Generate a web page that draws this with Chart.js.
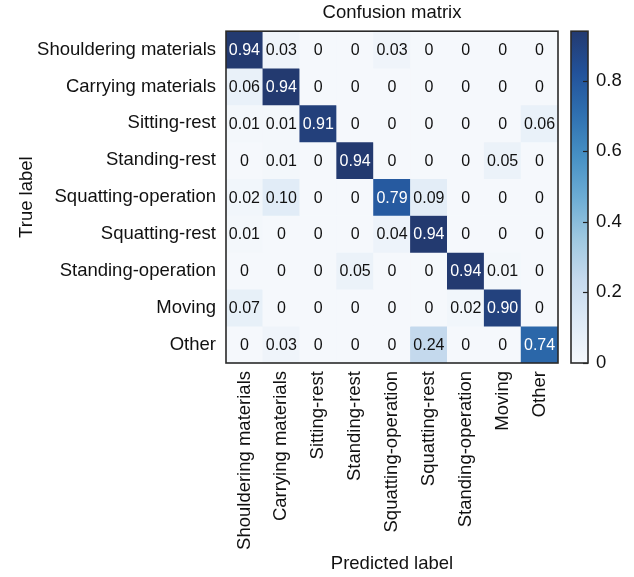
<!DOCTYPE html>
<html>
<head>
<meta charset="utf-8">
<script src="https://cdn.jsdelivr.net/npm/chart.js@4.4.1/dist/chart.umd.min.js"></script>
<style>
  html, body { margin: 0; padding: 0; background: #ffffff; }
  #wrap { width: 634px; height: 577px; }
</style>
</head>
<body>
<div id="wrap"><canvas id="cm" width="634" height="577"></canvas></div>
<script>
// Activity classes (rows = true label, columns = predicted label)
const classLabels = [
  'Shouldering materials', 'Carrying materials', 'Sitting-rest', 'Standing-rest',
  'Squatting-operation', 'Squatting-rest', 'Standing-operation', 'Moving', 'Other'
];

// Normalised confusion matrix, one array per true class
const shoulderingRow  = [0.94, 0.03, 0,    0,    0.03, 0,    0,    0,    0   ];
const carryingRow     = [0.06, 0.94, 0,    0,    0,    0,    0,    0,    0   ];
const sittingRestRow  = [0.01, 0.01, 0.91, 0,    0,    0,    0,    0,    0.06];
const standingRestRow = [0,    0.01, 0,    0.94, 0,    0,    0,    0.05, 0   ];
const squattingOpRow  = [0.02, 0.10, 0,    0,    0.79, 0.09, 0,    0,    0   ];
const squattingRestRow= [0.01, 0,    0,    0,    0.04, 0.94, 0,    0,    0   ];
const standingOpRow   = [0,    0,    0,    0.05, 0,    0,    0.94, 0.01, 0   ];
const movingRow       = [0.07, 0,    0,    0,    0,    0,    0.02, 0.90, 0   ];
const otherRow        = [0,    0.03, 0,    0,    0,    0.24, 0,    0,    0.74];

const matrixRows = [shoulderingRow, carryingRow, sittingRestRow, standingRestRow,
  squattingOpRow, squattingRestRow, standingOpRow, movingRow, otherRow];

const colorbarTicks = [0, 0.2, 0.4, 0.6, 0.8];

const vmax = Math.max(...matrixRows.flat());

// Sequential blue colour map (light to dark navy)
const bluesStops = ['#f5f8fc', '#deeaf6', '#c6daee', '#9ec8e0', '#6cacd4',
  '#4690c4', '#2f70b0', '#22529a', '#233a70'];
function hexToRgb(h) {
  return [parseInt(h.slice(1, 3), 16), parseInt(h.slice(3, 5), 16), parseInt(h.slice(5, 7), 16)];
}
function blues(t) {
  t = Math.min(1, Math.max(0, t));
  const pos = t * (bluesStops.length - 1);
  const i = Math.min(bluesStops.length - 2, Math.floor(pos));
  const f = pos - i;
  const a = hexToRgb(bluesStops[i]), b = hexToRgb(bluesStops[i + 1]);
  const c = a.map((v, k) => Math.round(v + (b[k] - v) * f));
  return `rgb(${c[0]},${c[1]},${c[2]})`;
}

const FONT = "'Liberation Sans', Arial, Helvetica, sans-serif";
const TEXT = '#111111';

// One floating-bar dataset per true-label row; each bar spans one row band
const datasets = matrixRows.map((row, i) => ({
  label: classLabels[i],
  data: row.map(() => [i - 0.5, i + 0.5]),
  values: row,
  backgroundColor: row.map(v => blues(v / vmax)),
  borderWidth: 0,
  grouped: false,
  barPercentage: 1,
  categoryPercentage: 1
}));

const cellTextPlugin = {
  id: 'cellText',
  afterDatasetsDraw(chart) {
    const ctx = chart.ctx;
    ctx.save();
    ctx.font = `16px ${FONT}`;
    ctx.textAlign = 'center';
    ctx.textBaseline = 'middle';
    chart.data.datasets.forEach((ds, i) => {
      const meta = chart.getDatasetMeta(i);
      meta.data.forEach((bar, j) => {
        const v = ds.values[j];
        const txt = v === 0 ? '0' : v.toFixed(2);
        ctx.fillStyle = v > vmax / 2 ? '#ffffff' : TEXT;
        const yc = (bar.y + bar.base) / 2;
        ctx.fillText(txt, bar.x, yc + 1);
      });
    });
    // frame around the matrix
    const a = chart.chartArea;
    ctx.strokeStyle = '#2a2a2a';
    ctx.lineWidth = 1.6;
    ctx.strokeRect(a.left, a.top, a.right - a.left, a.bottom - a.top);
    ctx.restore();
  }
};

const colorbarPlugin = {
  id: 'colorbar',
  afterDraw(chart) {
    const s = chart.scales.cb;
    const ctx = chart.ctx;
    const x0 = s.left + 13, x1 = s.left + 30;
    const yTop = s.getPixelForValue(vmax), yBot = s.getPixelForValue(0);
    const g = ctx.createLinearGradient(0, yBot, 0, yTop);
    bluesStops.forEach((c, k) => g.addColorStop(k / (bluesStops.length - 1), c));
    ctx.save();
    ctx.fillStyle = g;
    ctx.fillRect(x0, yTop, x1 - x0, yBot - yTop);
    ctx.strokeStyle = '#222222';
    ctx.lineWidth = 1.2;
    colorbarTicks.forEach(v => {
      const y = Math.round(s.getPixelForValue(v)) + 0.5;
      ctx.beginPath();
      ctx.moveTo(x1 - 5, y);
      ctx.lineTo(x1, y);
      ctx.stroke();
    });
    ctx.strokeStyle = '#2a2a2a';
    ctx.lineWidth = 1.6;
    ctx.strokeRect(x0, yTop, x1 - x0, yBot - yTop);
    ctx.restore();
  }
};

new Chart(document.getElementById('cm'), {
  type: 'bar',
  data: { labels: classLabels, datasets },
  plugins: [cellTextPlugin, colorbarPlugin],
  options: {
    responsive: false,
    devicePixelRatio: 1,
    animation: false,
    layout: { padding: 0 },
    plugins: {
      legend: { display: false },
      tooltip: { enabled: false },
      title: {
        display: true,
        text: 'Confusion matrix',
        fullSize: false,
        color: TEXT,
        font: { family: FONT, size: 18.5, weight: 'normal' },
        padding: { top: 2, bottom: 7 }
      }
    },
    scales: {
      x: {
        type: 'category',
        grid: { display: false, drawTicks: false },
        border: { display: false },
        ticks: {
          autoSkip: false, minRotation: 90, maxRotation: 90, padding: 8,
          color: TEXT, font: { family: FONT, size: 18.5 }
        },
        title: {
          display: true, text: 'Predicted label', color: TEXT,
          font: { family: FONT, size: 18.5 }, padding: { top: 0, bottom: 2 }
        },
        afterFit(scale) { scale.height = 214; }
      },
      y: {
        type: 'linear',
        min: -0.5, max: 8.5, reverse: true,
        grid: { display: false, drawTicks: false },
        border: { display: false },
        afterBuildTicks(scale) { scale.ticks = classLabels.map((_, i) => ({ value: i })); },
        ticks: {
          padding: 10, color: TEXT, font: { family: FONT, size: 18.5 },
          callback: v => classLabels[v]
        },
        title: {
          display: true, text: 'True label', color: TEXT,
          font: { family: FONT, size: 18.5 }, padding: { top: 16, bottom: 0 }
        },
        afterFit(scale) { scale.width = 226; }
      },
      cb: {
        type: 'linear', position: 'right', display: true,
        min: 0, max: vmax,
        // tick marks are drawn on the colour bar itself; tickLength only offsets the labels
        grid: { display: false, drawTicks: true, tickLength: 35 },
        border: { display: false },
        afterBuildTicks(scale) { scale.ticks = colorbarTicks.map(v => ({ value: v })); },
        ticks: {
          padding: 3, color: TEXT, font: { family: FONT, size: 18.5 },
          callback: v => (v === 0 ? '0' : v.toFixed(1))
        },
        afterFit(scale) { scale.width = 76; }
      }
    }
  }
});
</script>
</body>
</html>
